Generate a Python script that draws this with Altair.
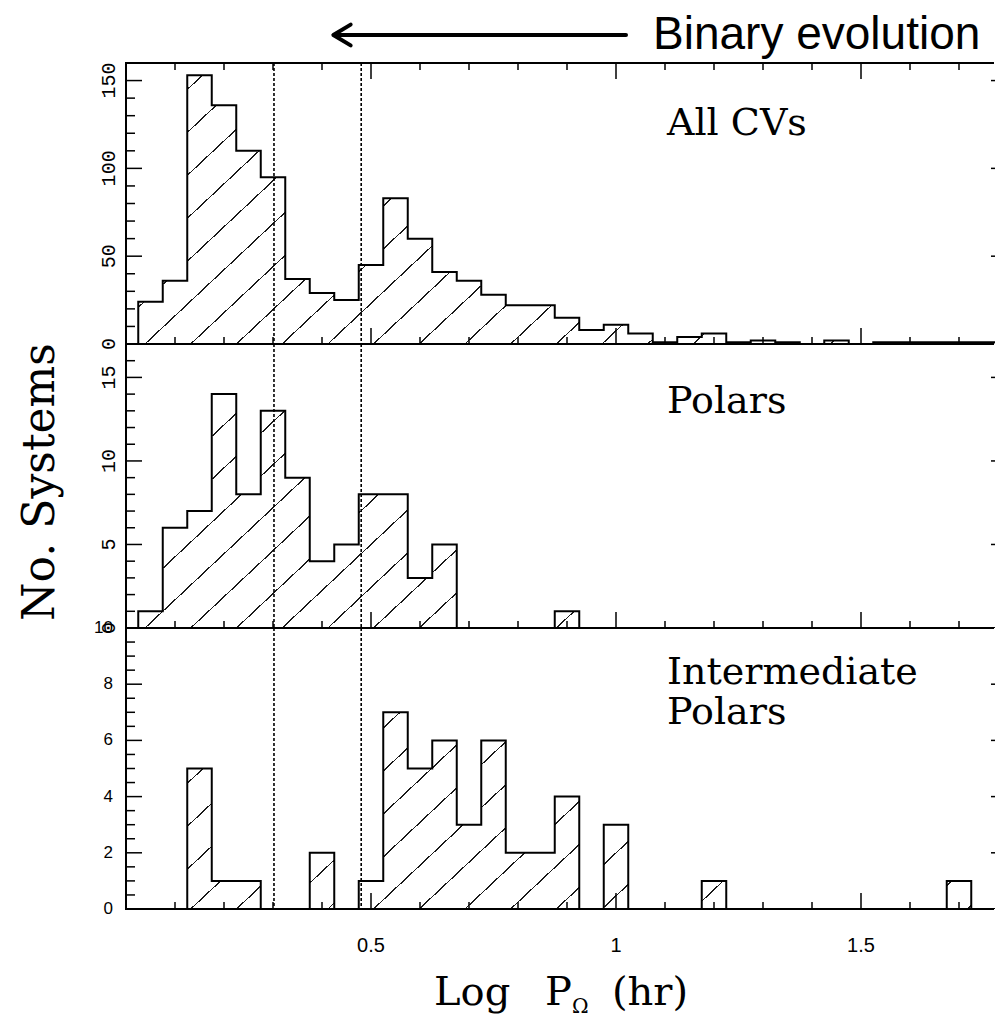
import math
import altair as alt
import pandas as pd

# ---------------- data ----------------
log_period = [0.05, 0.10, 0.15, 0.20, 0.25, 0.30, 0.35, 0.40, 0.45, 0.50,
              0.55, 0.60, 0.65, 0.70, 0.75, 0.80, 0.85, 0.90, 0.95, 1.00,
              1.05, 1.10, 1.15, 1.20, 1.25, 1.30, 1.35, 1.40, 1.45, 1.50,
              1.55, 1.60, 1.65, 1.70, 1.75]
all_cvs = [24, 36, 153, 136, 110, 95, 37, 29, 25, 45,
           83, 60, 41, 36, 28, 22, 22, 15, 8, 11,
           6, 1, 4, 6, 1, 2, 1, 0, 2, 0,
           1, 1, 1, 1, 1]
polars = [1, 6, 7, 14, 8, 13, 9, 4, 5, 8,
          8, 3, 5, 0, 0, 0, 0, 1, 0, 0,
          0, 0, 0, 0, 0, 0, 0, 0, 0, 0,
          0, 0, 0, 0, 0]
intermediate_polars = [0, 0, 5, 1, 1, 0, 0, 2, 0, 1,
                       7, 5, 6, 3, 6, 2, 2, 4, 0, 3,
                       0, 0, 0, 1, 0, 0, 0, 0, 0, 0,
                       0, 0, 0, 1, 0]
bin_width = 0.05
gap_edges = [0.302, 0.48]
x_major = [0.5, 1.0, 1.5]
x_major_labels = ["0.5", "1", "1.5"]
x_minor = [0.1, 0.2, 0.3, 0.4, 0.6, 0.7, 0.8, 0.9, 1.1, 1.2, 1.3, 1.4, 1.6, 1.7]

top_y_major = [50, 100, 150]
top_y_minor = [10, 20, 30, 40, 60, 70, 80, 90, 110, 120, 130, 140]
top_y_labels = [0, 50, 100, 150]
mid_y_major = [5, 10, 15]
mid_y_minor = [1, 2, 3, 4, 6, 7, 8, 9, 11, 12, 13, 14, 16]
mid_y_labels = [0, 5, 10, 15]
bot_y_major = [2, 4, 6, 8]
bot_y_minor = [0.5, 1, 1.5, 2.5, 3, 3.5, 4.5, 5, 5.5, 6.5, 7, 7.5, 8.5, 9, 9.5]
bot_y_labels = [0, 2, 4, 6, 8, 10]

# ---------------- layout / style ----------------
W = 869
PX_PER_UNIT = 490.0
x_max = W / PX_PER_UNIT
xscale = alt.Scale(domain=[0, x_max], nice=False, zero=False)
X = alt.X("x:Q", scale=xscale, axis=None)

HATCH_X0 = 19.0      # local px where a hatch line meets each baseline
HATCH_PERIOD = 45.7  # horizontal px between hatch lines
HATCH_SLOPE = 0.94
HATCH_LINE = 1.2
HATCH_COLOR = "#1a1a1a"

SERIF = "DejaVu Serif"
LABEL_SIZE = 38
one = pd.DataFrame({"k": [0]})

bin_edges = [c - bin_width / 2 for c in log_period] + [log_period[-1] + bin_width / 2]


def hatch_gradient(counts, height, ymax):
    pxu = PX_PER_UNIT
    pyu = height / ymax
    bx0 = bin_edges[0] * pxu
    bw = (bin_edges[-1] - bin_edges[0]) * pxu
    bh = max(counts) * pyu
    yb = height
    yt = height - bh
    A = (bx0 - HATCH_X0 + (yt - yb) / HATCH_SLOPE) / HATCH_PERIOD
    B = bw / HATCH_PERIOD
    C = bh / (HATCH_SLOPE * HATCH_PERIOD)
    S = B + C
    k = S / (B * B + C * C)
    perp = HATCH_PERIOD * HATCH_SLOPE / math.sqrt(1 + HATCH_SLOPE ** 2)
    half = (HATCH_LINE / perp) / S / 2
    stops = [{"offset": 0, "color": "white"}]
    for n in range(math.floor(A) - 1, math.ceil(A + S) + 2):
        g = (n - A) / S
        lo, hi = g - half, g + half
        if hi <= 0 or lo >= 1:
            continue
        lo, hi = max(lo, 0.0), min(hi, 1.0)
        stops += [{"offset": lo, "color": "white"},
                  {"offset": lo, "color": HATCH_COLOR},
                  {"offset": hi, "color": HATCH_COLOR},
                  {"offset": hi, "color": "white"}]
    stops.append({"offset": 1, "color": "white"})
    return {"gradient": "linear", "x1": 0, "y1": 0,
            "x2": k * B, "y2": k * C, "stops": stops}


def panel(counts, ymax, H, y_major, y_minor, y_labels, upright, top_ticks):
    yscale = alt.Scale(domain=[0, ymax], nice=False, zero=True)
    Y = alt.Y("y:Q", scale=yscale, axis=None, stack=None)
    area_df = pd.DataFrame({"x": bin_edges, "y": counts + [counts[-1]]})
    line_df = pd.DataFrame({
        "i": list(range(len(bin_edges) + 2)),
        "x": [bin_edges[0]] + bin_edges + [bin_edges[-1]],
        "y": [0] + counts + [counts[-1], 0],
    })
    layers = []
    layers.append(alt.Chart(area_df).mark_area(
        interpolate="step-after", fill=hatch_gradient(counts, H, ymax), clip=True
    ).encode(x=X, y=Y))
    layers.append(alt.Chart(line_df).mark_line(
        interpolate="step-after", color="black", strokeWidth=2, clip=True
    ).encode(x=X, y=Y, order=alt.Order("i:Q")))
    layers.append(alt.Chart(pd.DataFrame({"x": gap_edges})).mark_rule(
        color="black", strokeWidth=1.6, strokeDash=[3, 2]
    ).encode(x=X, y=alt.value(0), y2=alt.value(H)))
    # frame
    layers.append(alt.Chart(one).mark_rule(color="black", strokeWidth=2).encode(
        x=alt.value(0), y=alt.value(-1), y2=alt.value(H + 1)))
    layers.append(alt.Chart(one).mark_rule(color="black", strokeWidth=2).encode(
        x=alt.value(0), x2=alt.value(W - 1), y=alt.value(H)))
    layers.append(alt.Chart(one).mark_rule(color="black", strokeWidth=2).encode(
        x=alt.value(0), x2=alt.value(W - 1), y=alt.value(0)))
    # x ticks (inward)
    tick_sets = [(x_minor, 7), (x_major, 16)]
    for vals, ln in tick_sets:
        layers.append(alt.Chart(pd.DataFrame({"x": vals})).mark_rule(
            color="black", strokeWidth=1.5).encode(x=X, y=alt.value(H), y2=alt.value(H - ln)))
        if top_ticks:
            layers.append(alt.Chart(pd.DataFrame({"x": vals})).mark_rule(
                color="black", strokeWidth=1.5).encode(x=X, y=alt.value(0), y2=alt.value(ln)))
    # y ticks (inward)
    for vals, ln in [(y_minor, 9), (y_major, 16)]:
        layers.append(alt.Chart(pd.DataFrame({"y": vals})).mark_rule(
            color="black", strokeWidth=1.5).encode(x=alt.value(0), x2=alt.value(ln), y=Y))
    layers.append(alt.Chart(pd.DataFrame({"y": y_major})).mark_rule(
        color="black", strokeWidth=1.5).encode(x=alt.value(W - 4), x2=alt.value(W), y=Y))
    # y labels
    lab_df = pd.DataFrame({"y": y_labels, "t": [str(v) for v in y_labels]})
    if upright:
        layers.append(alt.Chart(lab_df).mark_text(
            font="Liberation Sans", fontSize=17, align="right", baseline="middle", color="black"
        ).encode(x=alt.value(-13), y=Y, text="t:N"))
    else:
        layers.append(alt.Chart(lab_df).mark_text(
            font="Liberation Mono", fontSize=20, angle=270, align="center",
            baseline="alphabetic", color="black"
        ).encode(x=alt.value(-11), y=Y, text="t:N"))
    return layers


def txt(text, x, y, size, font=SERIF, align="left", angle=0, baseline="alphabetic"):
    kw = dict(text=text, font=font, fontSize=size, align=align,
              baseline=baseline, color="black")
    if angle:
        kw["angle"] = angle
    return alt.Chart(one).mark_text(**kw).encode(x=alt.value(x), y=alt.value(y))


H_TOP, H_MID, H_BOT = 281, 284, 281

top_layers = panel(all_cvs, 160, H_TOP, top_y_major, top_y_minor, top_y_labels, False, True)
top_layers += [
    alt.Chart(one).mark_rule(opacity=0).encode(
        x=alt.value(-126), x2=alt.value(-126), y=alt.value(-63), y2=alt.value(-63)),
    alt.Chart(one).mark_rule(color="black", strokeWidth=4, strokeCap="round").encode(
        x=alt.value(210), x2=alt.value(500), y=alt.value(-28)),
    alt.Chart(one).mark_point(shape="M1,-1.2L-1,0L1,1.2", filled=False, size=300,
                              strokeWidth=4, color="black", opacity=1,
                              strokeCap="round", strokeJoin="round").encode(
        x=alt.value(216), y=alt.value(-28)),
    txt("Binary evolution", 527, -14, 46, font="Liberation Sans"),
    txt("All  CVs", 541, 72, LABEL_SIZE),
]
top = alt.layer(*top_layers).properties(width=W, height=H_TOP)

mid_layers = panel(polars, 17, H_MID, mid_y_major, mid_y_minor, mid_y_labels, False, False)
mid_layers += [
    txt("Polars", 541, 69, LABEL_SIZE),
    txt("No. Systems", -72, 138, 44, align="center", angle=270),
]
mid = alt.layer(*mid_layers).properties(width=W, height=H_MID)

bot_layers = panel(intermediate_polars, 10, H_BOT, bot_y_major, bot_y_minor, bot_y_labels, True, False)
xl_df = pd.DataFrame({"x": x_major, "t": x_major_labels})
bot_layers += [
    alt.Chart(xl_df).mark_text(font="Liberation Sans", fontSize=20, align="center",
                               baseline="alphabetic", color="black").encode(
        x=X, y=alt.value(H_BOT + 43), text="t:N"),
    txt("Intermediate", 541, 56, LABEL_SIZE),
    txt("Polars", 541, 96, LABEL_SIZE),
    txt("Log", 308, 377, 40),
    txt("P", 419, 377, 40),
    txt("\u03a9", 446, 385, 20),
    txt("(hr)", 486, 377, 40),
]
bot = alt.layer(*bot_layers).properties(width=W, height=H_BOT)

chart = alt.vconcat(top, mid, bot, spacing=0, bounds="flush").properties(
    padding=0, background="white"
).configure_view(stroke=None)

chart.save("out.html", embed_options={"renderer": "svg", "actions": False})
